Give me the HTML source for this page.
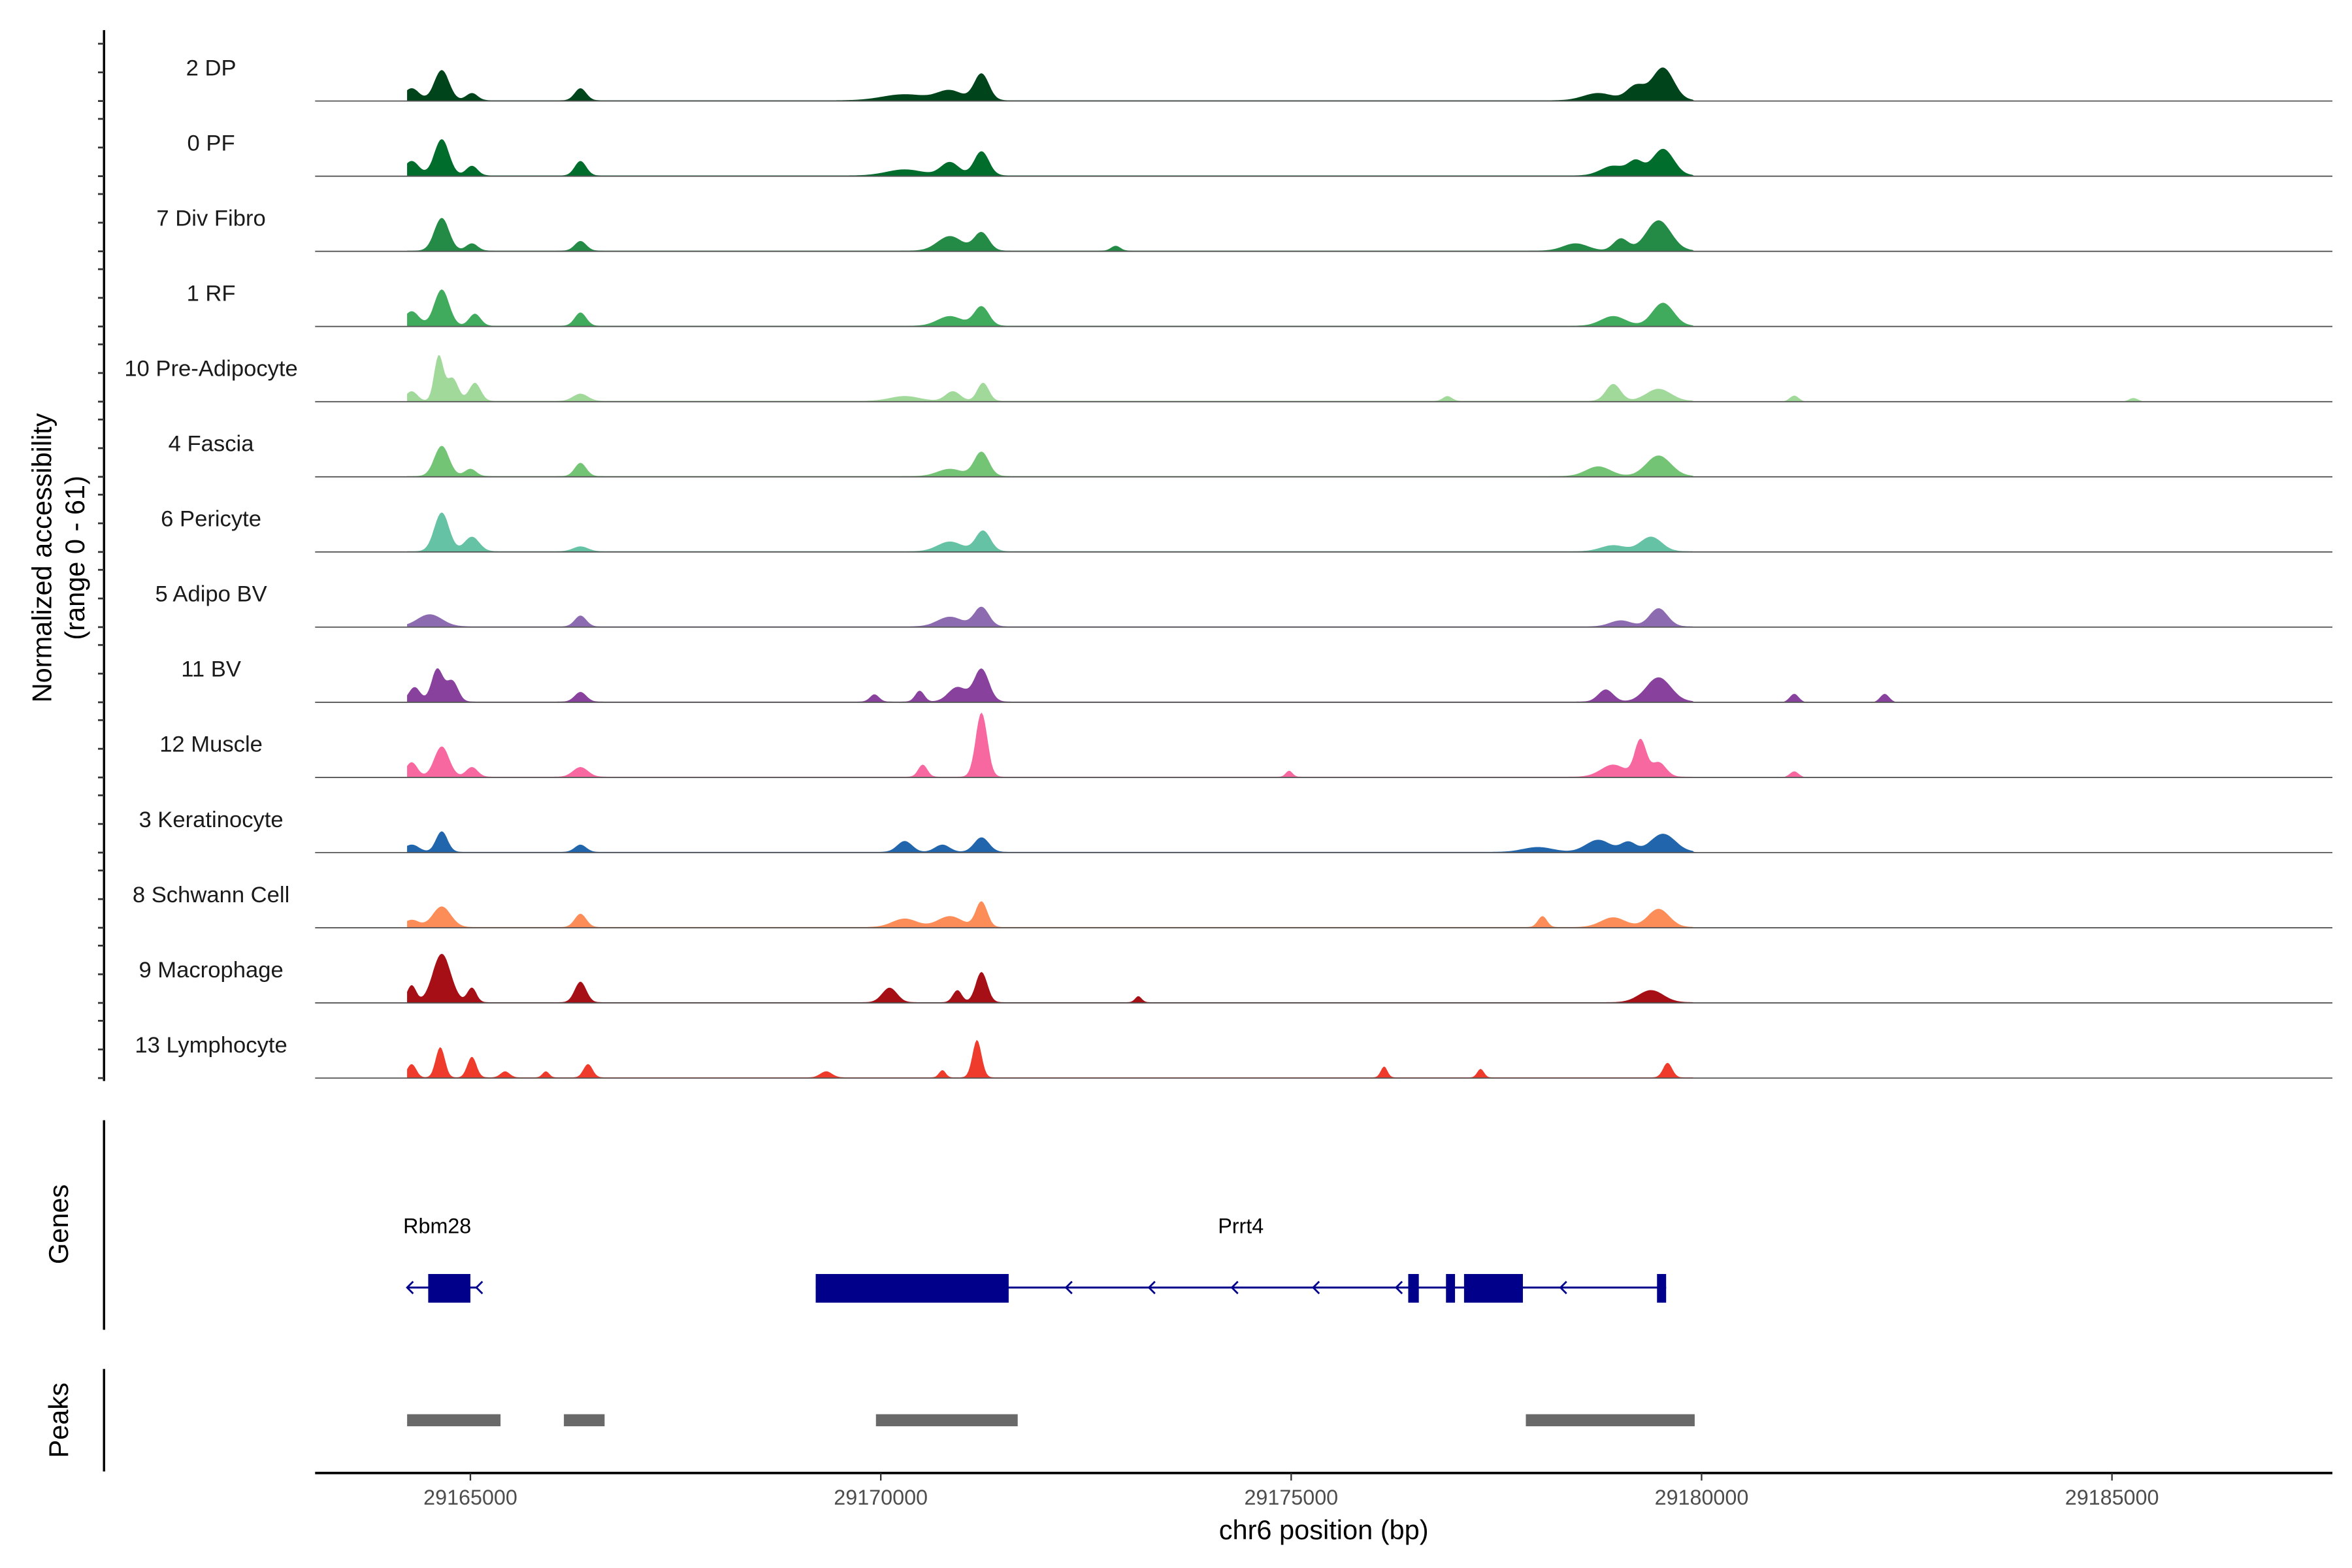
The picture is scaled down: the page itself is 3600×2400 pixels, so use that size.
<!DOCTYPE html>
<html><head><meta charset="utf-8"><style>
html,body{margin:0;padding:0;background:#fff}
svg{display:block}
text{font-family:"Liberation Sans",Arial,sans-serif}
</style></head><body>
<svg id="chart" width="3600" height="2400" viewBox="0 0 1560 1040" xmlns="http://www.w3.org/2000/svg">
<g id="tracks"></g>
<g id="genes"></g>
<g id="peaks"></g>
<g id="axes"></g>
</svg>
<script>
const trackNames = ["2 DP","0 PF","7 Div Fibro","1 RF","10 Pre-Adipocyte","4 Fascia","6 Pericyte","5 Adipo BV","11 BV","12 Muscle","3 Keratinocyte","8 Schwann Cell","9 Macrophage","13 Lymphocyte"];
const trackColors = ["#00441b","#006d2c","#238b45","#41ab5d","#a1d99b","#74c476","#66c2a4","#8c6bb1","#88419d","#f768a1","#2166ac","#fc8d59","#a50f15","#ef3b2c"];
// peaks per track: [center bp, height (0-61 scale), width bp]
const peaks0 = [[29164284,10,90],[29164651,25,90],[29165018,6,70],[29166341,10,70],[29170291,5,270],[29170842,8,150],[29171227,22,90],[29178741,6,180],[29179200,12,110],[29179530,27,130]];
const peaks1 = [[29164284,12,90],[29164651,30,90],[29165018,8,70],[29166341,12,70],[29170291,5,220],[29170842,11,110],[29171227,20,90],[29178924,8,150],[29179200,11,90],[29179530,22,130]];
const peaks2 = [[29164651,27,90],[29165018,6,70],[29166341,8,70],[29170842,12,150],[29171227,15,90],[29172862,4,55],[29178465,6,150],[29179016,10,90],[29179476,25,150]];
const peaks3 = [[29164284,12,90],[29164651,30,90],[29165055,10,70],[29166341,11,70],[29170842,8,150],[29171227,16,90],[29178924,8,150],[29179530,19,130]];
const peaks4 = [[29164284,8,70],[29164614,37,55],[29164780,19,70],[29165055,15,70],[29166341,6,90],[29170291,4,180],[29170878,8,90],[29171246,15,70],[29178924,14,90],[29179476,10,150],[29176904,4,55],[29181129,5,55],[29185262,3,55]];
const peaks5 = [[29164651,25,90],[29165000,6,70],[29166341,11,70],[29170842,6,150],[29171227,20,90],[29178741,8,150],[29179476,17,150]];
const peaks6 = [[29164651,32,90],[29165018,12,90],[29166341,4,90],[29170842,8,150],[29171246,17,90],[29178924,5,150],[29179384,12,130]];
const peaks7 = [[29164504,10,150],[29166341,9,70],[29170842,8,150],[29171227,16,90],[29179016,5,130],[29179476,15,110]];
const peaks8 = [[29164320,12,70],[29164596,27,70],[29164780,17,70],[29166341,8,70],[29169923,6,55],[29170474,9,55],[29170933,12,110],[29171227,27,90],[29178833,10,90],[29179476,20,150],[29181129,7,55],[29182231,7,55]];
const peaks9 = [[29164284,12,70],[29164651,25,90],[29165018,8,70],[29166341,8,90],[29170511,10,55],[29171227,53,70],[29174975,5,40],[29178924,10,150],[29179255,30,70],[29179476,12,90],[29181129,5,55]];
const peaks10 = [[29164284,6,90],[29164651,17,70],[29166341,6,70],[29170291,9,90],[29170750,6,90],[29171227,12,90],[29178006,4,180],[29178741,10,150],[29179108,8,90],[29179530,15,150]];
const peaks11 = [[29164284,6,90],[29164651,17,110],[29166341,11,70],[29170291,7,150],[29170842,9,150],[29171227,21,70],[29178061,9,55],[29178924,8,150],[29179476,15,130]];
const peaks12 = [[29164284,14,55],[29164651,40,110],[29165018,12,55],[29166341,17,70],[29170107,12,90],[29170933,10,55],[29171227,25,70],[29173138,5,40],[29179384,10,150]];
const peaks13 = [[29164284,11,55],[29164633,25,55],[29165018,17,55],[29165423,5,55],[29165919,5,40],[29166433,11,55],[29169335,5,70],[29170750,6,40],[29171172,31,55],[29176132,9,40],[29177308,7,40],[29179586,12,55]];
const allPeaks = [peaks0,peaks1,peaks2,peaks3,peaks4,peaks5,peaks6,peaks7,peaks8,peaks9,peaks10,peaks11,peaks12,peaks13];
const xTicks = [29165000,29170000,29175000,29180000,29185000];
const geneNames = ["Rbm28","Prrt4"];
const geneLines = [[29164229,29165073],[29169207,29179568]];
const geneExons = [[29164486,29165000],[29169207,29171558],[29176426,29176555],[29176886,29176996],[29177106,29177823],[29179457,29179568]];
const geneArrows = [29164229,29165073,29172256,29173267,29174277,29175268,29176278,29178281];
const peakRegions = [[29164229,29165367],[29166139,29166635],[29169941,29171668],[29177859,29179916]];

const NS="http://www.w3.org/2000/svg";
function mk(tag,attrs,parent){const e=document.createElementNS(NS,tag);for(const k in attrs)e.setAttribute(k,attrs[k]);parent.appendChild(e);return e;}
const X0=209,X1=1547;
function xs(bp){return 312+(bp-29165000)/5000*272.2;}
const BASE0=67, STEP=49.85, YMAX=61, TH=49;
function ys(v,base){return base - v/YMAX*TH;}

const gT=document.getElementById('tracks');
allPeaks.forEach((pk,i)=>{
  const base=BASE0+i*STEP;
  const g=mk('g',{},gT);
  
  
  let d='M'+xs(29164229).toFixed(1)+','+base;
  for(let bp=29164229; bp<=29186500; bp+=20){
    let v=0;
    pk.forEach(p=>{const z=(bp-p[0])/p[2]; if(Math.abs(z)<4) v+=p[1]*Math.exp(-0.5*z*z);});
    if(bp<29179900) v+=0.6;
    d+='L'+xs(bp).toFixed(1)+','+ys(v,base).toFixed(2);
  }
  d+='L'+xs(29186500).toFixed(1)+','+base+'Z';
  const a=mk('path',{d:d,fill:trackColors[i],stroke:'none'},g);
  
  
  const bl=mk('line',{x1:X0,x2:X1,y1:base,y2:base,stroke:'#555','stroke-width':0.8},g);
  
  
  const t=mk('text',{x:140,y:base-17,'font-size':15,'text-anchor':'middle',fill:'#1a1a1a'},g);
  t.textContent=trackNames[i];
  
  
});

const gA=document.getElementById('axes');
let l=mk('line',{x1:69,x2:69,y1:20,y2:717,stroke:'#000','stroke-width':1.5},gA);


for(let i=0;i<14;i++){
  const base=BASE0+i*STEP;
  [0,19,38].forEach(o=>{
    const tk=mk('line',{x1:65,x2:69,y1:base-o,y2:base-o,stroke:'#333','stroke-width':1.2},gA);
    
    
  });
}
let yt=mk('text',{transform:'translate(34,370) rotate(-90)','font-size':18,'text-anchor':'middle',fill:'#000'},gA);
yt.textContent='Normalized accessibility';


let yt2=mk('text',{transform:'translate(56,370) rotate(-90)','font-size':18,'text-anchor':'middle',fill:'#000'},gA);
yt2.textContent='(range 0 - 61)';



const gG=document.getElementById('genes');
l=mk('line',{x1:69,x2:69,y1:743,y2:882,stroke:'#000','stroke-width':1.5},gG);


let gt=mk('text',{transform:'translate(45,812) rotate(-90)','font-size':18,'text-anchor':'middle',fill:'#000'},gG);
gt.textContent='Genes';


geneLines.forEach((gl,i)=>{
  const ln=mk('line',{x1:xs(gl[0]),x2:xs(gl[1]),y1:854,y2:854,stroke:'#00008b','stroke-width':1.3},gG);
  
  
  const tx=mk('text',{x:i==0?290:823,y:818,'font-size':14,'text-anchor':'middle',fill:'#000'},gG);
  tx.textContent=geneNames[i];
  
  
});
geneExons.forEach(e=>{
  const r=mk('rect',{x:xs(e[0]),y:845,width:xs(e[1])-xs(e[0]),height:19,fill:'#00008b'},gG);
  
  
});
geneArrows.forEach(a=>{
  const x=xs(a);
  const p=mk('path',{d:`M${x+4},850 L${x},854 L${x+4},858`,fill:'none',stroke:'#00008b','stroke-width':1.2},gG);
  
  
});

const gP=document.getElementById('peaks');
l=mk('line',{x1:69,x2:69,y1:908,y2:976,stroke:'#000','stroke-width':1.5},gP);


let pt=mk('text',{transform:'translate(45,942) rotate(-90)','font-size':18,'text-anchor':'middle',fill:'#000'},gP);
pt.textContent='Peaks';


peakRegions.forEach(r=>{
  const b=mk('rect',{x:xs(r[0]),y:938,width:xs(r[1])-xs(r[0]),height:8,fill:'#696969'},gP);
  
  
});

l=mk('line',{x1:X0,x2:X1,y1:977,y2:977,stroke:'#000','stroke-width':1.6},gA);


xTicks.forEach(t=>{
  const x=xs(t);
  const tk=mk('line',{x1:x,x2:x,y1:977,y2:982,stroke:'#333','stroke-width':1},gA);
  
  
  const tl=mk('text',{x:x,y:998,'font-size':14,'text-anchor':'middle',fill:'#4d4d4d'},gA);
  tl.textContent=String(t);
  
  
});
let xt=mk('text',{x:878,y:1021,'font-size':18,'text-anchor':'middle',fill:'#000'},gA);
xt.textContent='chr6 position (bp)';


</script>
</body></html>
